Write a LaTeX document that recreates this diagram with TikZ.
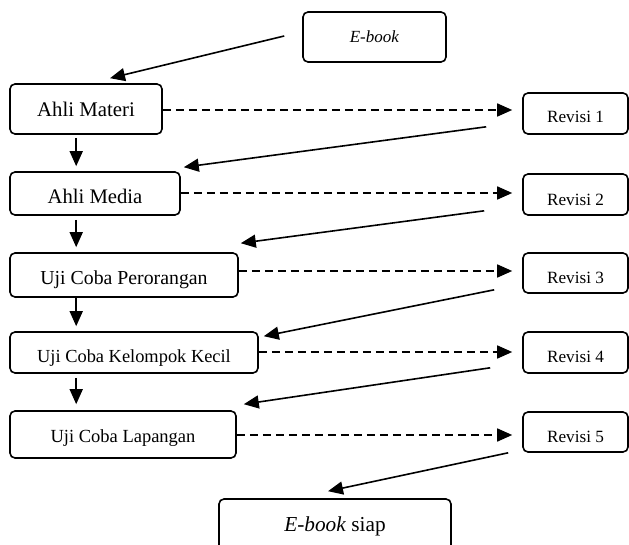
\documentclass[tikz,border=0pt]{standalone}
\usepackage{fontspec}
\setmainfont{Liberation Serif}
\usetikzlibrary{arrows.meta,calc}
\newcommand{\boxtext}[3]{\fontsize{#1}{#1}\selectfont\raisebox{-#2pt}[0pt][0pt]{#3}}
\tikzset{
  boxnode/.style={draw, rounded corners=5pt, line width=1.6pt, inner sep=0pt, anchor=center},
  flow/.style={line width=1.6pt, -{Triangle[length=15pt,width=13pt]}},
  flowdash/.style={flow, dash pattern=on 8pt off 5pt}
}
\begin{document}
\begin{tikzpicture}[x=1pt,y=-1pt]
\useasboundingbox (0,0) rectangle (629,545);
% nodes
\node[boxnode, minimum width=143pt, minimum height=50pt] (ebook) at (374.5,37) {\boxtext{17}{5.6}{\textit{E-book}}};
\node[boxnode, minimum width=152pt, minimum height=50pt] (am) at (86,109) {\boxtext{20.8}{7.9}{Ahli Materi}};
\node[boxnode, minimum width=170pt, minimum height=43pt] (amed) at (95,193.5) {\boxtext{20.7}{10.4}{Ahli Media}};
\node[boxnode, minimum width=228pt, minimum height=44pt] (up) at (124,275) {\boxtext{19.8}{9.6}{Uji Coba Perorangan}};
\node[boxnode, minimum width=248pt, minimum height=41pt] (kk) at (134,352.5) {\boxtext{18.4}{10.1}{Uji Coba Kelompok Kecil}};
\node[boxnode, minimum width=226pt, minimum height=47pt] (lap) at (123,434.5) {\boxtext{18.5}{7.6}{Uji Coba Lapangan}};
\node[boxnode, minimum width=232pt, minimum height=62pt] (siap) at (335,530) {\boxtext{21.3}{1.5}{\textit{E-book} siap}};
\node[boxnode, minimum width=105pt, minimum height=41pt] (r1) at (575.5,113.5) {\boxtext{17.2}{9.2}{Revisi 1}};
\node[boxnode, minimum width=105pt, minimum height=41pt] (r2) at (575.5,194.5) {\boxtext{17.2}{10.7}{Revisi 2}};
\node[boxnode, minimum width=105pt, minimum height=40pt] (r3) at (575.5,273) {\boxtext{17.2}{10.7}{Revisi 3}};
\node[boxnode, minimum width=105pt, minimum height=41pt] (r4) at (575.5,352.5) {\boxtext{17.2}{9.7}{Revisi 4}};
\node[boxnode, minimum width=105pt, minimum height=40pt] (r5) at (575.5,432) {\boxtext{17.2}{10.2}{Revisi 5}};
% solid arrows (feedback)
\draw[flow] ($(ebook.west)+(-18,-1)$) -- ($(am.north)+(24,-5)$);
\draw[flow] ($(r1.south west)+(-36,-8)$) -- ($(amed.north east)+(3,-4)$);
\draw[flow] ($(r2.south west)+(-38,-5)$) -- ($(up.north east)+(2,-9)$);
\draw[flow] ($(r3.south west)+(-28,-4)$) -- ($(kk.north east)+(5,5)$);
\draw[flow] ($(r4.south west)+(-32,-6)$) -- ($(lap.north east)+(7,-6)$);
\draw[flow] ($(r5.south west)+(-14,0)$) -- ($(siap.north)+(-7,-7)$);
% vertical arrows
\draw[flow] ($(am.south west)+(67,3)$) -- ($(amed.north west)+(67,-5)$);
\draw[flow] ($(amed.south west)+(67,4)$) -- ($(up.north west)+(67,-5)$);
\draw[flow] ($(up.south west)+(67,0)$) -- ($(kk.north west)+(67,-5)$);
\draw[flow] ($(kk.south west)+(67,4)$) -- ($(lap.north west)+(67,-6)$);
% dashed arrows
\coordinate (d1) at ($(am.east)+(0,1)$);
\coordinate (d2) at ($(amed.east)+(0,-0.5)$);
\coordinate (d3) at ($(up.east)+(0,-4)$);
\coordinate (d4) at ($(kk.east)+(0,-0.5)$);
\coordinate (d5) at ($(lap.east)+(0,0.5)$);
\draw[flowdash, shorten >=10pt] (d1) -- (d1 -| r1.west);
\draw[flowdash, shorten >=10pt] (d2) -- (d2 -| r2.west);
\draw[flowdash, shorten >=10pt] (d3) -- (d3 -| r3.west);
\draw[flowdash, shorten >=10pt] (d4) -- (d4 -| r4.west);
\draw[flowdash, shorten >=10pt] (d5) -- (d5 -| r5.west);
\end{tikzpicture}
\end{document}
